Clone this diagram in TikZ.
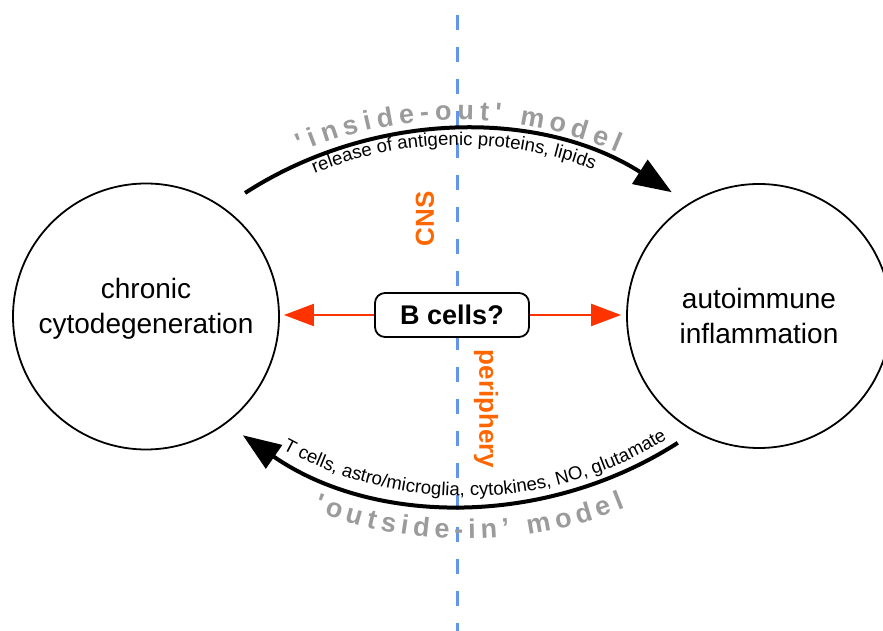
\documentclass[tikz,border=0pt]{standalone}
\usepackage{fontspec}
\setmainfont{Liberation Sans}
\usetikzlibrary{arrows.meta,decorations.text,calc}
\definecolor{dashblue}{RGB}{100,149,237}
\definecolor{labelorange}{RGB}{255,102,0}
\definecolor{arrowred}{RGB}{255,51,0}
\definecolor{titlegray}{RGB}{155,155,155}
\newcommand\mytitlefnt{\fontsize{27}{27}\selectfont\bfseries\color{titlegray}}
\newcommand\mysmallfnt{\fontsize{18.6}{18.6}\selectfont}
\begin{document}
\begin{tikzpicture}[x=1pt,y=1pt,
  bigcirc/.style={circle,draw,line width=1.8pt,inner sep=0pt,minimum size=266pt},
  circtext/.style={align=center,font=\fontsize{28}{35}\selectfont},
  bbox/.style={draw,fill=white,rounded corners=10pt,line width=1.8pt,minimum width=154pt,minimum height=44pt,inner sep=0pt,font=\fontsize{27}{27}\selectfont\bfseries},
  redarrow/.style={arrowred,line width=2.2pt,-{Triangle[length=30pt,width=22pt]}},
  curvearrow/.style={line width=4pt,-{Triangle[length=38pt,width=28pt]}},
  sidelabel/.style={text=labelorange,font=\fontsize{26}{26}\selectfont\bfseries,inner sep=0pt},
  divider/.style={dashblue,line width=3pt,dash pattern=on 15pt off 17pt}]
\useasboundingbox (0,0) rectangle (883,631);
% dividing line
\coordinate (dtop) at (457,616);
\coordinate (dbot) at (457,0);
\draw[divider] (dtop) -- (dbot);
% circles
\node[bigcirc] (lc) at (146,314.5) {};
\node[bigcirc,minimum size=264pt] (rc) at (759,315) {};
\node[circtext] (lt) at ([yshift=8pt]lc.center) {chronic\\cytodegeneration};
\node[circtext] (rt) at (rc.center) {autoimmune\\inflammation};
% side labels
\node[sidelabel,rotate=90] (cns) at (425,412) {CNS};
\node[sidelabel,rotate=-90] (per) at (486,222) {periphery};
% B cells box and red arrows
\node[bbox] (b) at (452,316) {B cells?};
\draw[redarrow,shorten >=4pt] (b.west) -- (b.west -| lc.east);
\draw[redarrow,shorten >=5pt] (b.east) -- (b.east -| rc.west);
% top arc
\coordinate (tc) at (459,106);
\draw[curvearrow] ($(tc)+(122.8:395)$) arc[start angle=122.8,end angle=57.4,radius=395];
\path[decorate,decoration={text along path,text align=fit to path,
  text={|\mytitlefnt|{\textquotesingle}inside-out{\textquotesingle} model}}]
  ($(tc)+(113:405)$) arc[start angle=113,end angle=67,radius=405];
\path[decorate,decoration={text along path,text align=center,
  text={|\mysmallfnt|release of antigenic proteins, lipids}}]
  ($(tc)+(120.8:380)$) arc[start angle=120.8,end angle=60.8,radius=380];
% bottom arc
\coordinate (bc) at (466,518);
\draw[curvearrow] ($(bc)+(-57.3:392)$) arc[start angle=-57.3,end angle=-124.7,radius=392];
\path[decorate,decoration={text along path,text align=center,
  text={|\mysmallfnt|T cells, astro/microglia, cytokines, NO, glutamate}}]
  ($(bc)+(-120:383)$) arc[start angle=-120,end angle=-57,radius=383];
\path[decorate,decoration={text along path,text align=fit to path,
  text={|\mytitlefnt|{\textquotesingle}outside-in’ model}}]
  ($(bc)+(-111:426)$) arc[start angle=-111,end angle=-68.1,radius=426];
\end{tikzpicture}
\end{document}
